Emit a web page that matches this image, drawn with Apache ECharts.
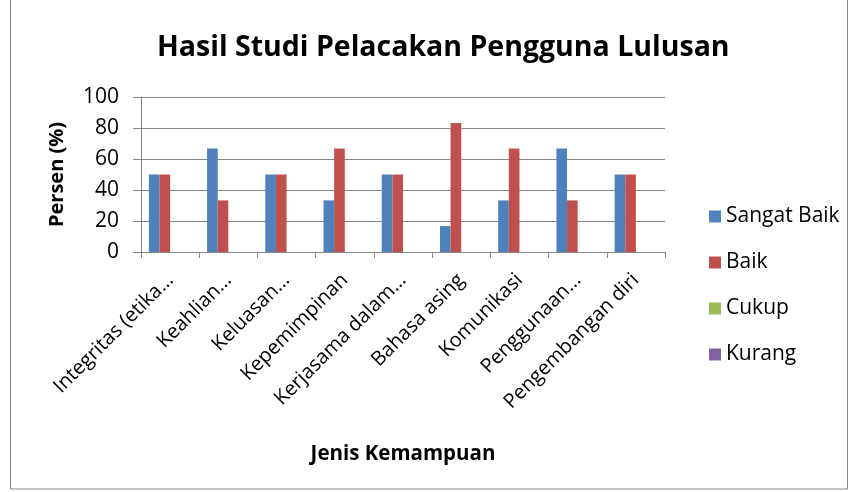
<!DOCTYPE html>
<html><head><meta charset="utf-8">
<script src="https://cdn.jsdelivr.net/npm/echarts@6/dist/echarts.min.js"></script>
<style>html,body{margin:0;padding:0;background:#fff}#c{width:855px;height:492px}</style>
</head><body><div id="c"></div>
<script>
var categories = ["Integritas (etika…","Keahlian…","Keluasan…","Kepemimpinan","Kerjasama dalam…","Bahasa asing","Komunikasi","Penggunaan…","Pengembangan diri"];
var seriesNames = ["Sangat Baik","Baik","Cukup","Kurang"];
var sangatBaik = [50,66.7,50,33.3,50,16.7,33.3,66.7,50];
var baik = [50,33.3,50,66.7,50,83.3,66.7,33.3,50];
var cukup = [0,0,0,0,0,0,0,0,0];
var kurang = [0,0,0,0,0,0,0,0,0];
var yTicks = [0,20,40,60,80,100];
var colors = ["#4F81BD","#C0504D","#9BBB59","#8064A2"];
var FONT = "Open Sans";
var chart = echarts.init(document.getElementById('c'));
var data = [sangatBaik, baik, cukup, kurang];
chart.setOption({
  animation:false,
  color:colors,
  textStyle:{fontFamily:FONT},
  title:{text:"Hasil Studi Pelacakan Pengguna Lulusan",left:152,top:28,
    textStyle:{fontFamily:FONT,fontWeight:'bold',fontSize:28.5,color:'#000'}},
  graphic:[{type:'rect',shape:{x:10.5,y:-2,width:837,height:491},style:{fill:null,stroke:'#868686',lineWidth:1},silent:true}],
  legend:{orient:'vertical',left:704,top:201,itemWidth:12,itemHeight:12,itemGap:25,icon:'rect',
    textStyle:{fontFamily:FONT,fontSize:21,color:'#000'},data:seriesNames},
  grid:{left:141,top:97,width:524,height:155,containLabel:false},
  xAxis:{type:'category',data:categories,name:"Jenis Kemampuan",nameLocation:'middle',nameGap:192,
    nameTextStyle:{fontFamily:FONT,fontWeight:'bold',fontSize:20.5,color:'#000'},
    axisLine:{lineStyle:{color:'#868686',width:1}},
    axisTick:{show:true,length:6,lineStyle:{color:'#868686'},alignWithLabel:false},
    axisLabel:{rotate:45,interval:0,fontFamily:FONT,fontSize:20,color:'#000',margin:25}},
  yAxis:{type:'value',min:yTicks[0],max:yTicks[yTicks.length-1],interval:20,
    name:"Persen (%)",nameLocation:'middle',nameGap:74,nameRotate:90,
    nameTextStyle:{fontFamily:FONT,fontWeight:'bold',fontSize:20,color:'#000'},
    axisLine:{show:true,lineStyle:{color:'#868686',width:1}},
    axisTick:{show:true,length:8,inside:false,lineStyle:{color:'#868686'}},
    splitLine:{lineStyle:{color:'#868686',width:1}},
    axisLabel:{fontFamily:FONT,fontSize:21,color:'#000',margin:22}},
  series:seriesNames.map(function(n,i){return {name:n,type:'bar',data:data[i],barGap:'0%',barCategoryGap:'27%',
    itemStyle:{color:colors[i],borderWidth:0}};})
});
</script></body></html>
